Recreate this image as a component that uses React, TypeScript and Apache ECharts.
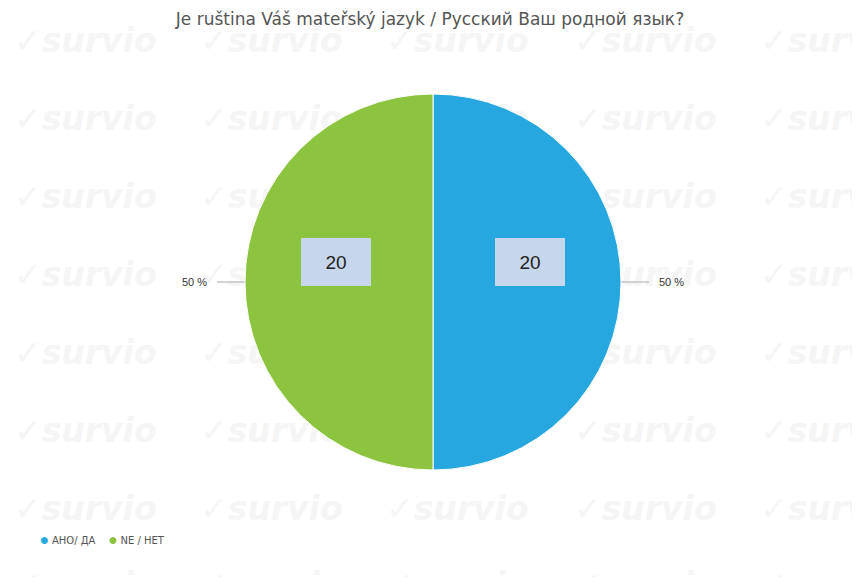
import React, { useEffect, useRef } from "react";
import * as echarts from "echarts";

const titleText = "Je ruština Váš mateřský jazyk / Русский Ваш родной язык?";
const categories = ["АНО/ ДА", "NE / НЕТ"];
const values = [20, 20];
const colors = ["#27a7df", "#8cc43f"];
const watermarkCols = [6, 192, 378, 566, 752];
const watermarkRows = [32, 110, 188, 266, 344, 422, 500, 576];

export default function App() {
  const ref = useRef<HTMLDivElement>(null);
  useEffect(() => {
    if (!ref.current) return;
    const chart = echarts.init(ref.current, null, { renderer: "svg" });
    const data = categories.map((name, i) => ({ name, value: values[i] }));
    const marks: any[] = [];
    watermarkRows.forEach((y) =>
      watermarkCols.forEach((x) =>
        marks.push({
          type: "text",
          x,
          y,
          z: -10,
          silent: true,
          style: {
            text: "✓survio",
            fill: "#f5f5f5",
            font: "italic bold 33px 'DejaVu Sans'",
            textVerticalAlign: "middle",
          },
        })
      )
    );
    chart.setOption({
      animation: false,
      backgroundColor: "#ffffff",
      color: colors,
      title: {
        text: titleText,
        left: "center",
        top: -3,
        textStyle: {
          fontFamily: "'DejaVu Sans'",
          fontSize: 17,
          fontWeight: "normal",
          color: "#555555",
        },
      },
      graphic: marks,
      legend: {
        left: 26,
        bottom: 26,
        icon: "circle",
        itemWidth: 9,
        itemHeight: 9,
        itemGap: 12,
        textStyle: { fontSize: 10, color: "#555555", fontFamily: "'DejaVu Sans'", padding: [0, 0, 0, -2] },
        data: categories,
      },
      series: [
        {
          type: "pie",
          center: [425, 274],
          radius: [0, 188],
          startAngle: 90,
          itemStyle: { borderColor: "#ffffff", borderWidth: 1 },
          label: {
            position: "outside",
            formatter: "{d} %",
            fontSize: 11,
            color: "#333333",
            distanceToLabelLine: 10,
          },
          labelLine: {
            length: 15,
            length2: 13,
            lineStyle: { color: "#aaaaaa", width: 1 },
          },
          emphasis: { disabled: true },
          data,
        },
        {
          type: "pie",
          center: [425, 274],
          radius: [0, 188],
          startAngle: 90,
          itemStyle: { color: "transparent", borderWidth: 0 },
          label: {
            position: "inside",
            formatter: "{c}",
            fontSize: 19,
            color: "#222222",
            backgroundColor: "#c6d6ec",
            width: 42,
            align: "center",
            padding: [15, 14, 14, 14],
            offset: [0, -20],
          },
          labelLine: { show: false },
          legendHoverLink: false,
          silent: true,
          emphasis: { disabled: true },
          data,
        },
      ],
    });
    return () => chart.dispose();
  }, []);
  return <div ref={ref} style={{ width: 844, height: 569 }} />;
}
